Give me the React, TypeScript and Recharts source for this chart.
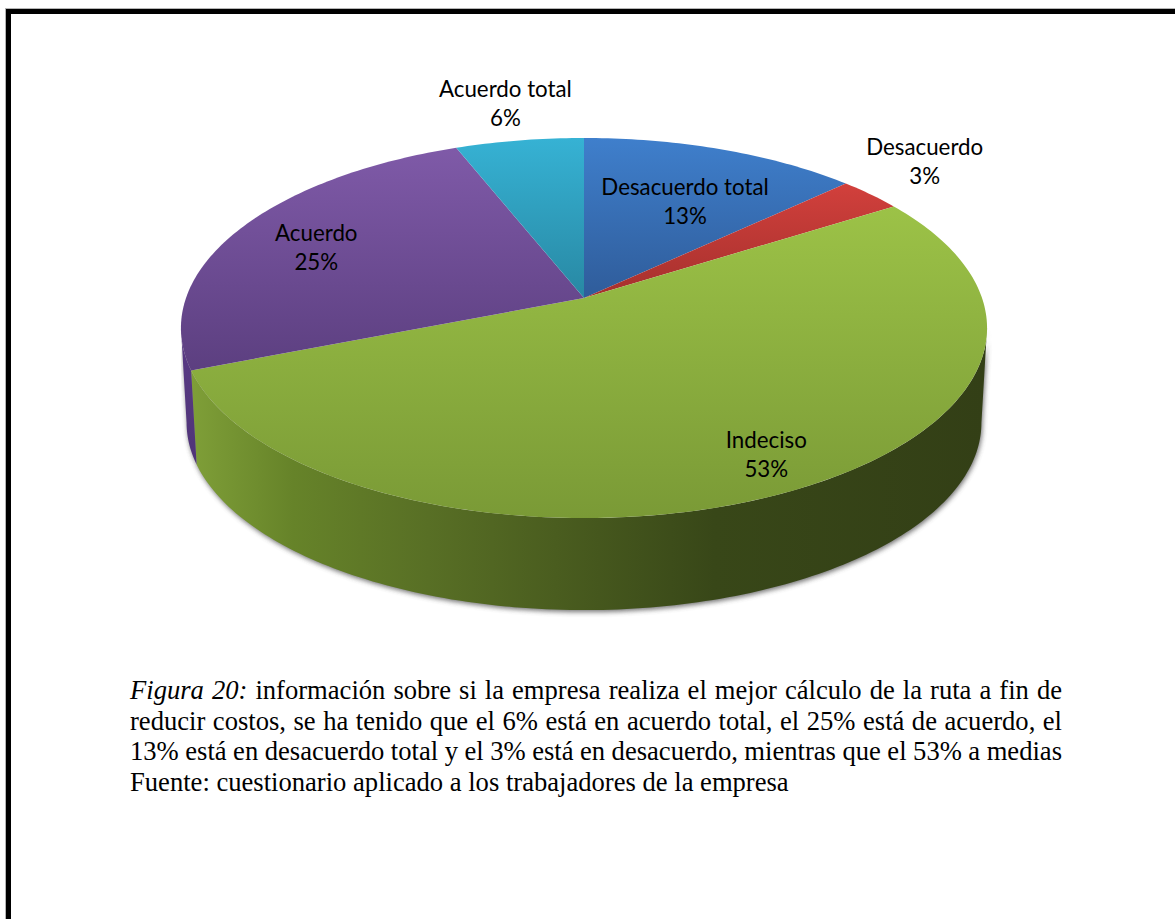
import { Pie, PieChart } from "recharts";

const categories = ["Desacuerdo total", "Desacuerdo", "Indeciso", "Acuerdo", "Acuerdo total"];
const shares = [13, 3, 53, 25, 6];
const faceGradients = ["faceBlue", "faceRed", "faceGreen", "facePurple", "faceTeal"];
const wallGradients = ["wallBlue", "wallRed", "wallGreen", "wallPurple", "wallTeal"];
// label centre, relative to the point on the rim at the middle of each slice
const labelOffsets = [
  [-37, 53],
  [54, -32],
  [-28, -35],
  [76, 19],
  [-14, -36],
];

const captionLines = [
  "información sobre si la empresa realiza el mejor cálculo de la ruta a fin de",
  "reducir costos, se ha tenido que el 6% está en acuerdo total, el 25% está de acuerdo, el",
  "13% está en desacuerdo total y el 3% está en desacuerdo, mientras que el 53% a medias",
  "Fuente: cuestionario aplicado a los trabajadores de la empresa",
];

const rows = categories.map((name, i) => ({
  name,
  value: shares[i],
  faceFill: `url(#${faceGradients[i]})`,
  wallFill: `url(#${wallGradients[i]})`,
}));

const CENTER_X = 584;
const CENTER_Y = 298;
const RADIUS = 398;

// tilted disc seen in perspective
const TILT = 0.4656;
const PERSPECTIVE = -0.158;
// the rim of the floor is the top rim pulled toward a far vanishing point
const WALL_TAPER = 0.014;
const WALL_VANISH_Y = 7090;
// angles where the side of the disc turns away from the viewer
const WALL_FROM = -9.1;
const WALL_TO = -170.9;

function rimPoint(cx: number, cy: number, r: number, deg: number): [number, number] {
  const rad = (deg * Math.PI) / 180;
  const u = Math.cos(rad);
  const v = -Math.sin(rad);
  const d = 1 + PERSPECTIVE * v;
  return [cx + (r * u) / d, cy + (TILT * r * v) / d];
}

function floorPoint(cx: number, [x, y]: [number, number]): [number, number] {
  return [cx + (x - cx) * (1 - WALL_TAPER), y + (WALL_VANISH_Y - y) * WALL_TAPER];
}

function arc(cx: number, cy: number, r: number, from: number, to: number) {
  const steps = Math.max(2, Math.ceil(Math.abs(to - from)));
  const pts: [number, number][] = [];
  for (let i = 0; i <= steps; i++) {
    pts.push(rimPoint(cx, cy, r, from + ((to - from) * i) / steps));
  }
  return pts;
}

const toPath = (pts: [number, number][]) =>
  pts.map(([x, y], i) => `${i ? "L" : "M"}${x.toFixed(2)} ${y.toFixed(2)}`).join(" ") + " Z";

function wallPath(p: any) {
  const from = Math.min(p.startAngle, WALL_FROM);
  const to = Math.max(p.endAngle, WALL_TO);
  if (from <= to) return null;
  const top = arc(p.cx, p.cy, p.outerRadius, from, to);
  const floor = top.map((q) => floorPoint(p.cx, q)).reverse();
  return toPath([...top, ...floor]);
}

function ShadowShape(p: any) {
  const d = wallPath(p);
  if (!d) return <g />;
  return <path d={d} fill="#444" opacity={0.75} transform="translate(1 2)" filter="url(#wallShadow)" />;
}

function WallShape(p: any) {
  const d = wallPath(p);
  if (!d) return <g />;
  return <path d={d} fill={p.wallFill} stroke="none" />;
}

function FaceShape(p: any) {
  const rim = arc(p.cx, p.cy, p.outerRadius, p.startAngle, p.endAngle);
  const d = toPath([[p.cx, p.cy], ...rim]);
  return <path d={d} fill={p.faceFill} stroke="none" />;
}

function SliceLabel(p: any) {
  const [rx, ry] = rimPoint(p.cx, p.cy, p.outerRadius, p.midAngle);
  const [dx, dy] = labelOffsets[p.index];
  const x = rx + dx;
  const y = ry + dy;
  return (
    <text x={x} y={y} textAnchor="middle" fontFamily="Lato" fontSize={22.3} fill="#000">
      <tspan x={x} dy={-7}>
        {p.name}
      </tspan>
      <tspan x={x} dy={29}>
        {`${p.value}%`}
      </tspan>
    </text>
  );
}

const pieProps = {
  data: rows,
  dataKey: "value",
  nameKey: "name",
  cx: CENTER_X,
  cy: CENTER_Y,
  outerRadius: RADIUS,
  startAngle: 90,
  endAngle: -270,
  stroke: "none",
  isAnimationActive: false,
  labelLine: false,
};

function vertical(id: string, top: string, bottom: string) {
  return (
    <linearGradient id={id} x1="0" y1="0" x2="0" y2="1">
      <stop offset="0%" stopColor={top} />
      <stop offset="100%" stopColor={bottom} />
    </linearGradient>
  );
}

export default function App() {
  return (
    <div style={{ position: "absolute", left: 0, top: 0, width: 1175, height: 919, overflow: "hidden", background: "#fff" }}>
      <div
        style={{
          position: "absolute",
          left: 6,
          top: 9,
          width: 1175,
          height: 920,
          borderTop: "5px solid #000",
          borderLeft: "5px solid #000",
          boxShadow: "-1px -1px 0 #b5b5b5",
        }}
      />
      <div style={{ position: "absolute", left: 0, top: 0 }}>
        <PieChart width={1175} height={660} margin={{ left: 0, right: 0, top: 0, bottom: 0 }}>
          <defs>
            {vertical("faceBlue", "#3f7fcc", "#2f5c9a")}
            {vertical("faceRed", "#d2403c", "#a5302d")}
            {vertical("faceGreen", "#9cc247", "#7a9a36")}
            {vertical("facePurple", "#7f5aa8", "#5c3f80")}
            {vertical("faceTeal", "#36b2d4", "#2888a3")}
            {vertical("wallBlue", "#2f5c9a", "#2f5c9a")}
            {vertical("wallRed", "#a5302d", "#a5302d")}
            {vertical("wallTeal", "#2888a3", "#2888a3")}
            <linearGradient id="wallPurple" x1="0" y1="0" x2="0" y2="1">
              <stop offset="0%" stopColor="#5a3b85" />
              <stop offset="100%" stopColor="#4f3478" />
            </linearGradient>
            <linearGradient id="wallGreen" gradientUnits="userSpaceOnUse" x1="190" y1="0" x2="985" y2="0">
              <stop offset="0%" stopColor="#7f9f38" />
              <stop offset="13%" stopColor="#668329" />
              <stop offset="30%" stopColor="#586f25" />
              <stop offset="46%" stopColor="#4a5d1f" />
              <stop offset="66%" stopColor="#384718" />
              <stop offset="100%" stopColor="#333f16" />
            </linearGradient>
            <filter id="wallShadow" x="-5%" y="-20%" width="110%" height="140%">
              <feGaussianBlur stdDeviation="2.5" />
            </filter>
          </defs>
          <Pie {...pieProps} shape={ShadowShape} />
          <Pie {...pieProps} shape={WallShape} />
          <Pie {...pieProps} shape={FaceShape} label={SliceLabel} />
        </PieChart>
      </div>
      <div
        style={{
          position: "absolute",
          left: 130,
          top: 675,
          width: 932,
          fontFamily: "'Liberation Serif'",
          fontSize: 26.6,
          lineHeight: "30.7px",
          color: "#000",
        }}
      >
        {captionLines.map((line, i) => (
          <div
            key={i}
            style={{
              textAlign: i < 3 ? "justify" : "left",
              textAlignLast: i < 3 ? "justify" : "left",
              wordSpacing: i === 2 ? "-0.3px" : undefined,
              whiteSpace: i < 3 ? "normal" : "nowrap",
            }}
          >
            {i === 0 && <i>Figura 20: </i>}
            {line}
          </div>
        ))}
      </div>
    </div>
  );
}
